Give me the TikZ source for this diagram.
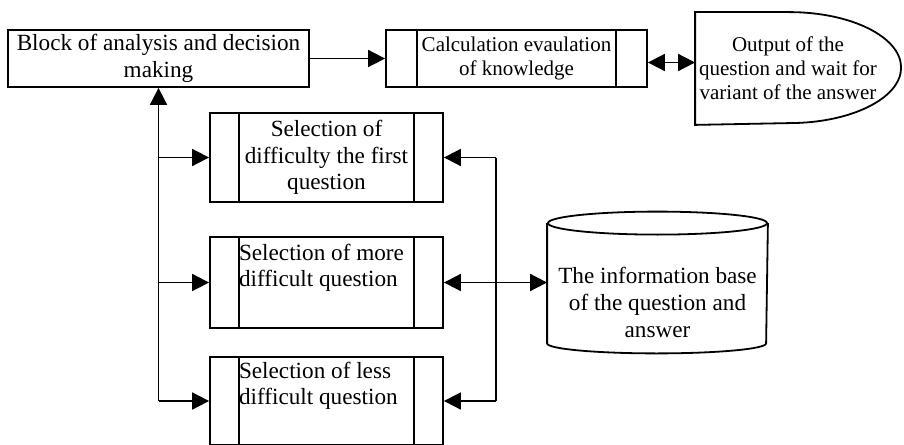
\documentclass[tikz,border=0pt]{standalone}
\usepackage{fontspec}
\setmainfont{Liberation Serif}
\usetikzlibrary{arrows.meta}

\begin{document}
\begin{tikzpicture}[x=0.5pt,y=-0.5pt,line width=0.9pt,
		big/.style={font=\fontsize{11.6}{13.3}\selectfont},
		small/.style={font=\fontsize{10.5}{12}\selectfont},
		box/.style={draw,rectangle,inner sep=0pt,align=center},
		procbox/.style={box,path picture={
				\draw ([xshift=#1]path picture bounding box.north west) -- ([xshift=#1]path picture bounding box.south west);
				\draw ([xshift=-#1]path picture bounding box.north east) -- ([xshift=-#1]path picture bounding box.south east);}},
		arr/.style={-{Triangle[length=8.5pt,width=8.5pt]}},
		dbl/.style={{Triangle[length=8.5pt,width=8.5pt]}-{Triangle[length=8.5pt,width=8.5pt]}}]
	\useasboundingbox (0,0) rectangle (904,444);

	\node[box,big,minimum width=150.5pt,minimum height=28.5pt] (blk) at (158.5,58.5) {Block of analysis and decision\\making};
	\node[procbox=15.5pt,small,minimum width=130.5pt,minimum height=28.5pt] (calc) at (516.5,58.5) {Calculation evaulation\\of knowledge};
	\node[small,align=center,inner sep=0pt,minimum width=92pt,minimum height=55.5pt] (out) at (788,68.5) {Output of the\\question and wait for\\variant of the answer};
	\draw (out.north west) -- ++(94,0) arc[start angle=90,end angle=-90,x radius=56pt,y radius=27.75pt] -- (out.south west) -- cycle;

	\node[procbox=14.5pt,big,minimum width=116.5pt,minimum height=44.5pt] (sel1) at (326.5,157.5) {Selection of\\difficulty the first\\question};
	\node[procbox=14.5pt,minimum width=116.5pt,minimum height=45.5pt] (sel2) at (326.5,282.5) {};
	\node[big,anchor=north west,inner sep=0pt,align=left] (sel2txt) at ([xshift=14.5pt,yshift=-3.5pt]sel2.north west) {Selection of more\\difficult question};
	\node[procbox=14.5pt,minimum width=116.5pt,minimum height=44pt] (sel3) at (326.5,401) {};
	\node[big,anchor=north west,inner sep=0pt,align=left] (sel3txt) at ([xshift=14.5pt,yshift=-2.5pt]sel3.north west) {Selection of less\\difficult question};

	% data base drum
	\node[inner sep=0pt,minimum width=109.5pt,minimum height=70pt] (base) at (657.5,282.5) {};
	\draw ([yshift=-5.75pt]base.north) ellipse[x radius=54.75pt,y radius=5.75pt];
	\draw ([yshift=-5.75pt]base.north west) -- ([yshift=5pt]base.south west)
		arc[start angle=180,end angle=360,x radius=54.75pt,y radius=5pt] -- ([yshift=-5.75pt]base.north east);
	\node[big,align=center,inner sep=0pt] (basetxt) at ([yshift=-10pt]base.center) {The information base\\of the question and\\answer};

	\draw[arr] (blk) -- (calc);
	\coordinate (link) at ([yshift=-2pt]calc.east);
	\draw[dbl] (link) -- (link -| out.west);

	\draw[arr] (blk.south |- sel3.west) -- (blk.south);
	\foreach \s in {sel1,sel2,sel3}
		\draw[arr] (blk.south |- \s.west) -- (\s.west);

	\coordinate (rbus) at (496,282.5);
	\draw (rbus |- sel1.east) -- (rbus |- sel3.east);
	\foreach \s in {sel1,sel3}
		\draw[arr] (rbus |- \s.east) -- (\s.east);
	\draw[dbl] (sel2.east) -- (base.west);
\end{tikzpicture}
\end{document}
